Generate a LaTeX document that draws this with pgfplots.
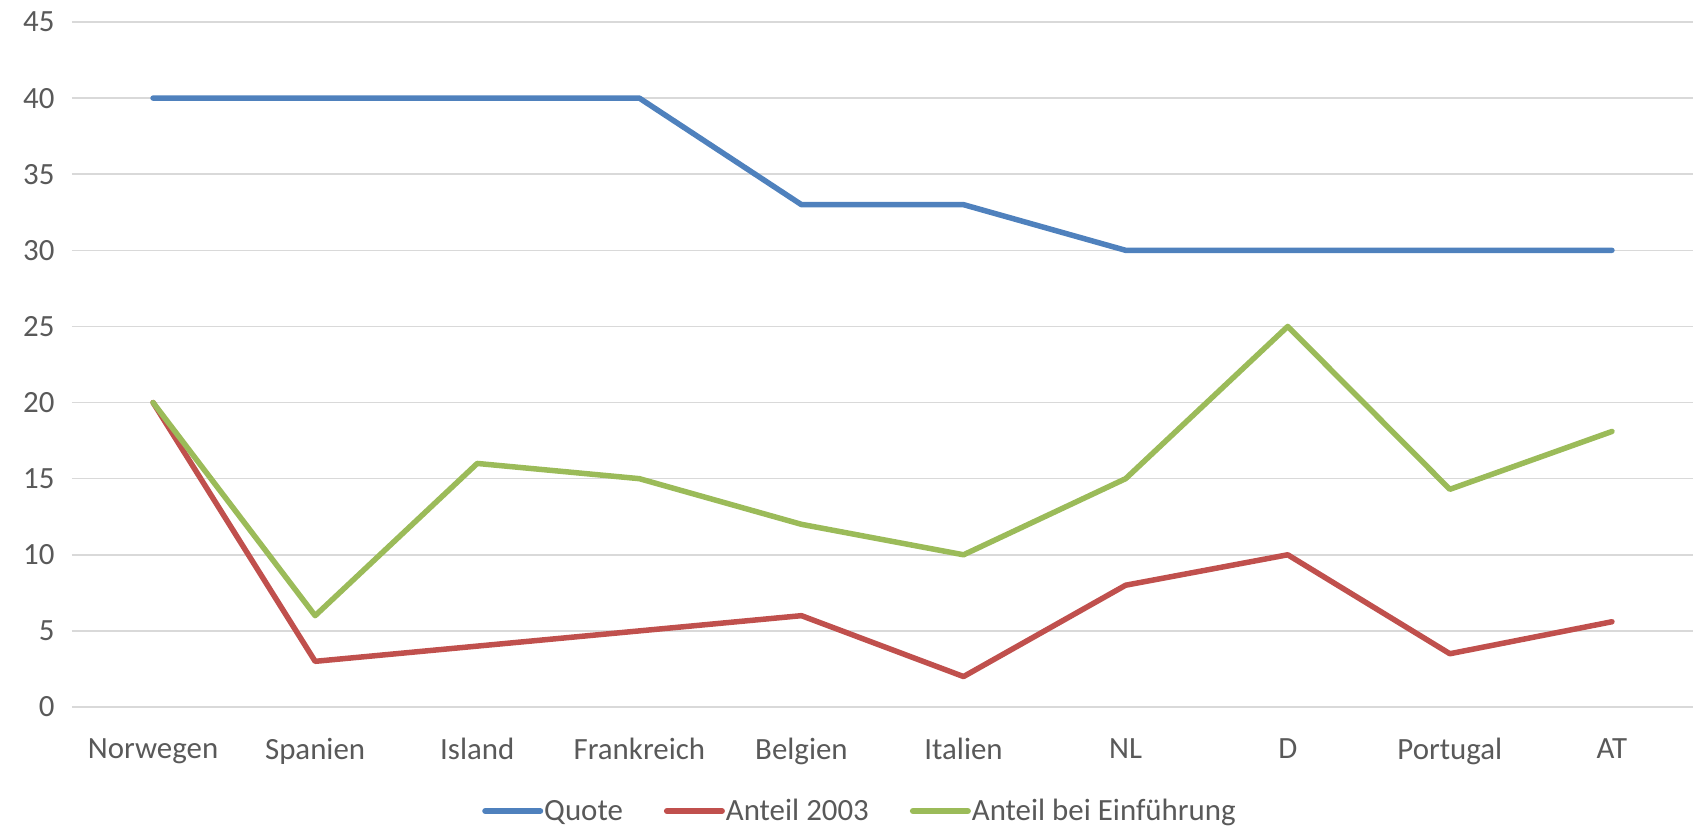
\documentclass[border=0pt]{standalone}
\usepackage{fontspec}
\setmainfont{Carlito}
\usepackage{pgfplots}
\pgfplotsset{compat=1.18}
\definecolor{cblue}{HTML}{4F81BD}
\definecolor{cred}{HTML}{C0504D}
\definecolor{cgreen}{HTML}{9BBB59}
\definecolor{cgrid}{HTML}{D9D9D9}
\definecolor{ctext}{HTML}{595959}
\begin{document}
\begin{tikzpicture}[x=1bp,y=1bp]
\useasboundingbox (-72,-121) rectangle (1624,707);
\begin{axis}[
  at={(0,0)}, anchor=south west,
  scale only axis, width=1621bp, height=685bp,
  xmin=-0.5, xmax=9.5, ymin=0, ymax=45,
  xtick={0,...,9},
  xticklabels={Norwegen,Spanien,Island,Frankreich,Belgien,Italien,NL,D,Portugal,AT},
  ytick={0,5,...,45},
  ymajorgrids, major grid style={cgrid, line width=1.5bp},
  axis line style={draw=none},
  major tick length=0pt,
  tick label style={font=\fontsize{31}{36}\selectfont, text=ctext},
  /pgf/number format/assume math mode=true,
  yticklabel style={xshift=-14bp},
  xticklabel style={yshift=-28bp},
  legend style={at={(0.5,-121bp+17bp)}, anchor=center, xshift=-23bp, draw=none, fill=none,
    legend columns=-1, font=\fontsize{31}{36}\selectfont, text=ctext,
    inner sep=0pt, nodes={inner sep=1bp},
    /tikz/every even column/.append style={column sep=40bp}},
  legend image code/.code={\draw[#1, line width=6bp, line cap=round] (0bp,0bp) -- (55bp,0bp);},
  legend cell align=left,
]
\addplot[cblue, line width=5.5bp, line cap=round, line join=round] coordinates {
(0,40) (1,40) (2,40) (3,40) (4,33) (5,33) (6,30) (7,30) (8,30) (9,30)};
\addlegendentry{Quote}
\addplot[cred, line width=5.5bp, line cap=round, line join=round] coordinates {
(0,20) (1,3) (2,4) (3,5) (4,6) (5,2) (6,8) (7,10) (8,3.5) (9,5.6)};
\addlegendentry{Anteil 2003}
\addplot[cgreen, line width=5.5bp, line cap=round, line join=round] coordinates {
(0,20) (1,6) (2,16) (3,15) (4,12) (5,10) (6,15) (7,25) (8,14.3) (9,18.1)};
\addlegendentry{Anteil bei Einführung}
\end{axis}
\end{tikzpicture}
\end{document}
